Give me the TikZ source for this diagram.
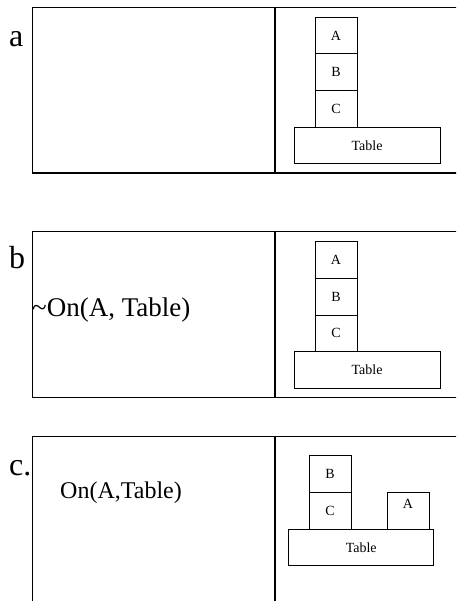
\documentclass[tikz,border=0pt]{standalone}
\usepackage{fontspec}
\setmainfont{Liberation Serif}
\usetikzlibrary{positioning}
\tikzset{
  blockbox/.style={draw, line width=0.9pt, minimum width=42pt, minimum height=36.7pt, inner sep=0pt, outer sep=0pt, font=\fontsize{14}{16}\selectfont},
  tablebox/.style={blockbox, minimum width=146pt},
  frameline/.style={line width=1.5pt},
  caselabel/.style={anchor=base west, inner sep=0pt, font=\fontsize{32}{36}\selectfont},
  goaltext/.style={anchor=base west, inner sep=0pt, font=\fontsize{24}{28}\selectfont}
}
\begin{document}
\begin{tikzpicture}[x=1pt, y=-1pt, node distance=0pt]
\useasboundingbox (0,0) rectangle (456,601);
\clip (0,0) rectangle (456,601);
% a
\node[caselabel] (lab_a) at (9,46.7) {a};
\draw[frameline] (32.5,7.5) rectangle (470,173);
\draw[frameline] (275,7.5) -- (275,173);
\node[tablebox] (a_T) at (367,145.5) {Table};
\node[blockbox, anchor=south west] (a_C) at ([xshift=21pt]a_T.north west) {C};
\node[blockbox, above=of a_C] (a_B) {B};
\node[blockbox, above=of a_B] (a_A) {A};
% b
\node[caselabel] (lab_b) at (9,268) {b};
\draw[frameline] (32.5,231.7) rectangle (470,397.7);
\draw[frameline] (275,231.7) -- (275,397.7);
\node[goaltext, font=\fontsize{27}{30}\selectfont] (goal_b) at (32,316.7) {\textasciitilde On(A, Table)};
\node[tablebox] (b_T) at (367,370) {Table};
\node[blockbox, anchor=south west] (b_C) at ([xshift=21pt]b_T.north west) {C};
\node[blockbox, above=of b_C] (b_B) {B};
\node[blockbox, above=of b_B] (b_A) {A};
% c
\node[caselabel] (lab_c) at (9,475.7) {c.};
\draw[frameline] (32.5,610) -- (32.5,436.7) -- (470,436.7);
\draw[frameline] (275,436.7) -- (275,610);
\node[goaltext] (goal_c) at (60,498) {On(A,Table)};
\node[tablebox, minimum width=145pt] (c_T) at (361.2,547.5) {Table};
\node[blockbox, anchor=south west] (c_C) at ([xshift=20.3pt]c_T.north west) {C};
\node[blockbox, above=of c_C] (c_B) {B};
\node[blockbox, anchor=south west, text depth=14pt] (c_A) at ([xshift=98.3pt]c_T.north west) {A};
\end{tikzpicture}
\end{document}
